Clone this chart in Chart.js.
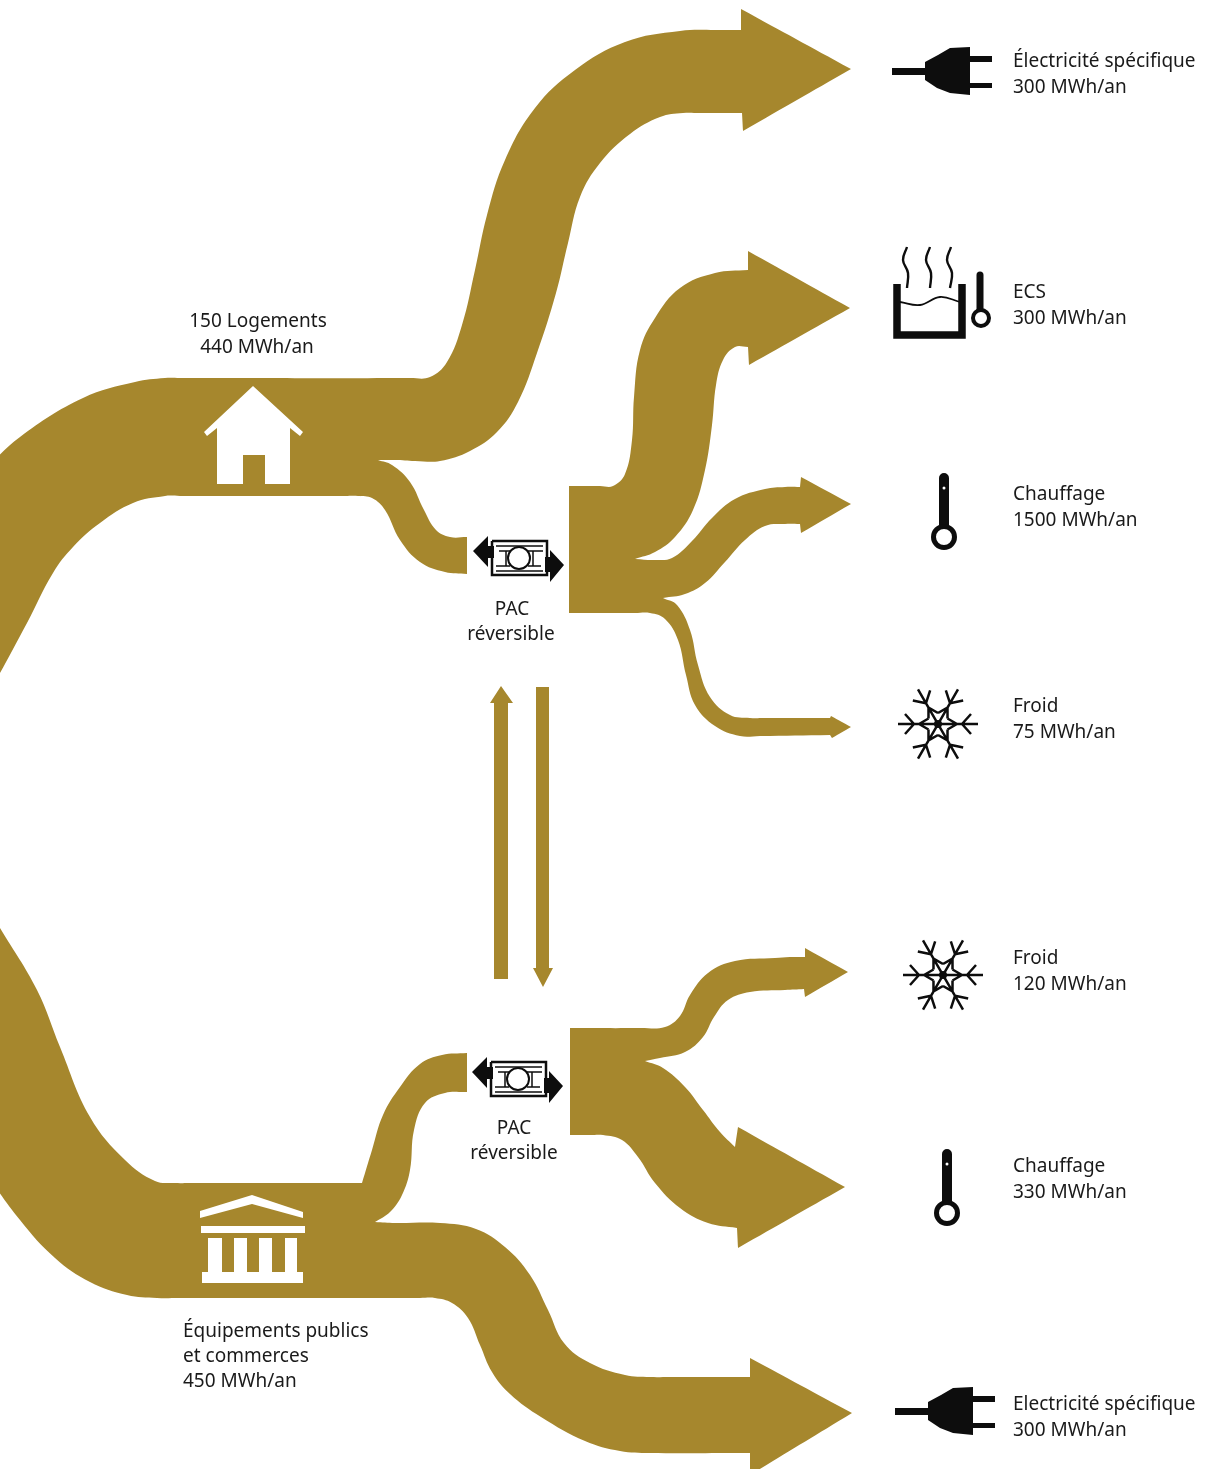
<!DOCTYPE html>
<html>
<head>
<meta charset="utf-8">
<title>Flux d'énergie</title>
<script src="https://cdn.jsdelivr.net/npm/chart.js@4/dist/chart.umd.js"></script>
<style>
  html, body { margin: 0; padding: 0; background: #fff; }
  canvas { display: block; }
</style>
</head>
<body>
<canvas id="sankey" width="1213" height="1469"></canvas>
<script>
// labels
const outputNames = ['Électricité spécifique', 'ECS', 'Chauffage', 'Froid', 'Froid', 'Chauffage', 'Electricité spécifique'];
const outputValues = [300, 300, 1500, 75, 120, 330, 300];
const outputAnchors = [[1013, 67], [1013, 298], [1013, 500], [1013, 712], [1013, 964], [1013, 1172], [1013, 1410]];
const centeredLabels = [
  ['150 Logements', 258, 327], ['440 MWh/an', 257, 353],
  ['PAC', 512, 615], ['réversible', 511, 640],
  ['PAC', 514, 1134], ['réversible', 514, 1159],
];
const leftLabels = [
  ['Équipements publics', 183, 1337], ['et commerces', 183, 1362], ['450 MWh/an', 183, 1387],
];

// flow outlines, a doubled point is a sharp corner
const logementsFlow = [
  [-20, 475], [-20, 475], [20, 437], [83, 398], [135, 382], [165, 378], [180, 378], [410, 378], [430, 377],
  [447, 362], [462, 325], [475, 270], [487, 215], [505, 160], [535, 108], [575, 70], [625, 42], [680, 31], [720, 30],
  [741, 30], [741, 30], [741, 9], [741, 9], [851, 69], [851, 69], [743, 131], [743, 131],
  [742, 113], [742, 113], [700, 113], [683, 113], [660, 117], [630, 134], [600, 163], [580, 197], [568, 243], [556, 293],
  [537, 353], [518, 402], [497, 432], [470, 451], [440, 461], [415, 461], [395, 460], [378, 460], [378, 460],
  [392, 465], [410, 482], [424, 510], [436, 530], [450, 537], [467, 537], [467, 537], [467, 574], [467, 574],
  [445, 572], [420, 562], [400, 540], [385, 510], [372, 498], [358, 496], [345, 496], [180, 496], [165, 496],
  [133, 503], [100, 523], [73, 547], [53, 573], [27, 623], [-20, 710], [-20, 710],
];
const pacHautFlow = [
  [569, 486], [569, 486], [600, 486], [613, 486], [625, 474], [632, 440], [634, 397], [640, 350], [655, 318], [680, 288],
  [715, 273], [748, 270], [748, 270], [748, 251], [748, 251], [850, 308], [850, 308], [749, 365], [749, 365],
  [748, 347], [748, 347], [735, 347], [723, 360], [716, 385], [712, 425], [705, 470], [693, 510], [675, 537],
  [655, 552], [635, 559], [635, 559], [655, 560], [672, 558], [692, 541], [712, 518], [735, 499], [765, 489], [785, 487], [800, 487], [800, 487],
  [801, 477], [801, 477], [851, 504], [851, 504], [801, 533], [801, 533], [800, 524], [800, 524], [785, 524], [765, 526],
  [745, 540], [725, 562], [705, 583], [685, 594], [663, 598], [663, 598], [677, 605], [690, 630], [698, 665],
  [710, 697], [730, 715], [750, 718], [765, 718], [830, 718], [830, 718], [831, 716], [831, 716], [851, 727], [851, 727], [832, 738], [832, 738],
  [830, 735], [830, 735], [760, 736], [740, 736], [715, 726], [695, 705], [686, 675], [678, 640], [665, 619],
  [650, 613], [635, 613], [569, 613], [569, 613],
];
const equipementsFlow = [
  [-20, 895], [-20, 895], [0, 928], [37, 990], [60, 1047], [90, 1117], [125, 1160], [155, 1181], [175, 1183], [190, 1183],
  [345, 1183], [362, 1183], [362, 1183], [372, 1150], [383, 1115], [400, 1087], [420, 1064], [442, 1055], [467, 1053], [467, 1053],
  [467, 1092], [467, 1092], [445, 1093], [425, 1103], [414, 1130], [410, 1170], [402, 1195], [390, 1212], [375, 1222], [375, 1222],
  [395, 1223], [440, 1223], [476, 1229], [505, 1247], [530, 1275], [548, 1310], [564, 1343], [590, 1363], [625, 1375], [650, 1377],
  [670, 1377], [735, 1377], [750, 1377], [750, 1377], [750, 1358], [750, 1358], [852, 1413], [852, 1413], [750, 1475], [750, 1475],
  [750, 1453], [750, 1453], [735, 1453], [650, 1453], [620, 1451], [585, 1441], [541, 1417], [510, 1394], [492, 1372], [480, 1345],
  [468, 1318], [452, 1303], [435, 1298], [420, 1298], [180, 1298], [157, 1298], [127, 1295], [90, 1282], [55, 1258], [20, 1220], [-20, 1165], [-20, 1165],
];
const pacBasFlow = [
  [570, 1028], [570, 1028], [640, 1028], [665, 1027], [680, 1016], [690, 995], [708, 973], [735, 961], [775, 958], [790, 957], [805, 957], [805, 957],
  [805, 948], [805, 948], [848, 972], [848, 972], [805, 997], [805, 997], [804, 989], [804, 989], [785, 990], [750, 992], [728, 1000],
  [714, 1017], [703, 1037], [685, 1052], [660, 1058], [645, 1061], [645, 1061], [663, 1068], [685, 1087], [703, 1110], [720, 1132],
  [735, 1147], [735, 1147], [738, 1127], [738, 1127], [845, 1187], [845, 1187], [738, 1248], [738, 1248], [737, 1228], [737, 1228],
  [708, 1223], [680, 1208], [655, 1183], [638, 1157], [622, 1140], [603, 1135], [590, 1135], [570, 1135], [570, 1135],
];
const exchangeUp = [[494, 979], [494, 703], [490, 703], [501, 686], [513, 703], [508, 703], [508, 979]];
const exchangeDown = [[536, 687], [536, 968], [533, 968], [543, 987], [553, 968], [549, 968], [549, 687]];

// white pictograms on the bands
const house = [[253, 386], [303, 432], [300, 436], [290, 428], [290, 484], [265, 484], [265, 455], [243, 455], [243, 484], [217, 484], [217, 428], [207, 436], [204, 432]];
const templeRoof = [[252, 1195], [303, 1212], [303, 1218], [252, 1204], [200, 1218], [200, 1211]];
const templeBeam = [[201, 1226], [305, 1226], [305, 1233], [201, 1233]];
const templeBase = [[202, 1272], [208, 1272], [208, 1238], [222, 1238], [222, 1272], [234, 1272], [234, 1238], [247, 1238], [247, 1272], [259, 1272], [259, 1238], [272, 1238], [272, 1272], [285, 1272], [285, 1238], [297, 1238], [297, 1272], [303, 1272], [303, 1283], [202, 1283]];

// black pictograms
const plugBody = [[925, 62], [938, 55], [950, 48], [970, 47], [970, 95], [950, 93], [937, 88], [925, 80]];
const plugCord = [[892, 68], [925, 68], [925, 75], [892, 75]];
const plugPinTop = [[970, 56], [992, 56], [992, 62], [970, 62]];
const plugPinBottom = [[970, 83], [992, 83], [992, 88], [970, 88]];
const tankWalls = [[897, 284], [897, 335], [962, 335], [962, 284]];
const tankWater = [[900, 302], [920, 305], [940, 297], [960, 302]];
const steam = [
  [907, 247], [903, 260], [908, 273], [907, 288], [null, null],
  [930, 247], [926, 260], [931, 273], [930, 288], [null, null],
  [951, 247], [947, 260], [952, 273], [950, 288],
];
const thermometerStem = [[944, 478], [944, 530]];
const thermometerBulb = [[944, 537]];
const thermometerGlint = [[944, 488]];
const ecsStem = [[980, 275], [980, 312]];
const ecsBulb = [[981, 318]];
const flakeArm = [
  [0, 0], [40, 0], [null, null],
  [24, 0], [33, -10], [null, null], [24, 0], [33, 10], [null, null],
  [19, 0], [9.5, -5.5], [null, null], [19, 0], [9.5, 5.5],
];
const pacFrame = [[492, 541], [547, 541], [547, 575], [492, 575], [492, 541]];
const pacLines = [
  [496, 546], [543, 546], [null, null], [496, 571], [543, 571], [null, null],
  [499, 551], [512, 551], [null, null], [526, 551], [543, 551], [null, null],
  [506, 551], [506, 566], [null, null], [496, 566], [510, 566], [null, null],
  [528, 566], [541, 566], [null, null], [533, 551], [533, 566],
];
const pacCircle = [[519, 558]];
const pacArrowLeft = [[473, 551], [488, 536], [488, 546], [494, 546], [494, 558], [488, 558], [488, 567]];
const pacArrowRight = [[564, 565], [550, 550], [550, 557], [545, 557], [545, 572], [550, 572], [550, 582]];

const GOLD = '#a6872d';
const INK = '#0d0d0d';

const pts = (list, dx = 0, dy = 0) => list.map(([x, y]) => (x === null ? { x: null, y: null } : { x: x + dx, y: y + dy }));

const shape = (list, color, tension = 0, dx = 0, dy = 0) => ({
  data: pts(list, dx, dy),
  showLine: true,
  fill: 'shape',
  backgroundColor: color,
  borderWidth: 0,
  pointRadius: 0,
  tension,
});

const stroke = (list, width, tension = 0, dx = 0, dy = 0, cap = 'butt') => ({
  data: pts(list, dx, dy),
  showLine: true,
  fill: false,
  borderColor: INK,
  borderWidth: width,
  borderJoinStyle: 'miter',
  borderCapStyle: cap,
  pointRadius: 0,
  tension,
});

const ring = (list, radius, width, color = '#fff', dx = 0, dy = 0) => ({
  data: pts(list, dx, dy),
  showLine: false,
  pointStyle: 'circle',
  pointRadius: radius,
  pointBorderWidth: width,
  pointBorderColor: INK,
  pointBackgroundColor: color,
});

const plug = (dx, dy) => [plugBody, plugCord, plugPinTop, plugPinBottom].map((p) => shape(p, INK, 0, dx, dy));

const flake = (cx, cy) => {
  const out = [];
  for (let i = 0; i < 6; i += 1) {
    const a = (i * Math.PI) / 3;
    const turned = flakeArm.map(([x, y]) => (x === null ? [null, null]
      : [x * Math.cos(a) - y * Math.sin(a), x * Math.sin(a) + y * Math.cos(a)]));
    out.push(stroke(turned, 2.5, 0, cx, cy));
  }
  out.push(ring([[0, 0]], 4, 0, INK, cx, cy));
  return out;
};

const pac = (dx, dy) => [
  shape(pacArrowLeft, INK, 0, dx, dy),
  shape(pacArrowRight, INK, 0, dx, dy),
  ring(pacCircle, 11, 2, '#fff', dx, dy),
  stroke(pacLines, 1.5, 0, dx, dy),
  stroke(pacFrame, 2.5, 0, dx, dy),
];

const thermometer = (dx, dy) => [
  ring(thermometerGlint, 1.5, 0, '#fff', dx, dy),
  ring(thermometerBulb, 10.5, 5, '#fff', dx, dy),
  stroke(thermometerStem, 10, 0, dx, dy, 'round'),
];

// first dataset ends up on top
const datasets = [
  shape(house, '#fff'),
  shape(templeRoof, '#fff'),
  shape(templeBeam, '#fff'),
  shape(templeBase, '#fff'),
  ...plug(0, 0),
  ...plug(3, 1340),
  stroke(tankWalls, 7.5),
  stroke(tankWater, 1.8, 0.4),
  stroke(steam, 2.4, 0.4),
  ...thermometer(0, 0),
  ...thermometer(3, 676),
  ring(ecsBulb, 8, 4),
  stroke(ecsStem, 7, 0, 0, 0, 'round'),
  ...flake(938, 724),
  ...flake(943, 975),
  ...pac(0, 0),
  ...pac(-1, 521),
  shape(exchangeUp, GOLD),
  shape(exchangeDown, GOLD),
  shape(logementsFlow, GOLD, 0.4),
  shape(pacHautFlow, GOLD, 0.4),
  shape(equipementsFlow, GOLD, 0.4),
  shape(pacBasFlow, GOLD, 0.4),
];

const textPlugin = {
  id: 'flowLabels',
  afterDatasetsDraw(chart) {
    const { ctx, scales: { x, y } } = chart;
    ctx.save();
    ctx.font = '19px "Noto Sans"';
    ctx.fillStyle = '#1a1a1a';
    ctx.textBaseline = 'alphabetic';
    ctx.textAlign = 'left';
    outputNames.forEach((name, i) => {
      const [ax, ay] = outputAnchors[i];
      ctx.fillText(name, x.getPixelForValue(ax), y.getPixelForValue(ay));
      ctx.fillText(`${outputValues[i]} MWh/an`, x.getPixelForValue(ax), y.getPixelForValue(ay + 26));
    });
    leftLabels.forEach(([text, ax, ay]) => {
      ctx.fillText(text, x.getPixelForValue(ax), y.getPixelForValue(ay));
    });
    ctx.textAlign = 'center';
    centeredLabels.forEach(([text, ax, ay]) => {
      ctx.fillText(text, x.getPixelForValue(ax), y.getPixelForValue(ay));
    });
    ctx.restore();
  },
};

new Chart(document.getElementById('sankey'), {
  type: 'scatter',
  data: { datasets },
  plugins: [textPlugin],
  options: {
    responsive: false,
    animation: false,
    events: [],
    layout: { autoPadding: false, padding: 0 },
    plugins: { legend: { display: false }, tooltip: { enabled: false } },
    scales: {
      x: { type: 'linear', min: 0, max: 1213, display: false },
      y: { type: 'linear', min: 0, max: 1469, reverse: true, display: false },
    },
  },
});
</script>
</body>
</html>
